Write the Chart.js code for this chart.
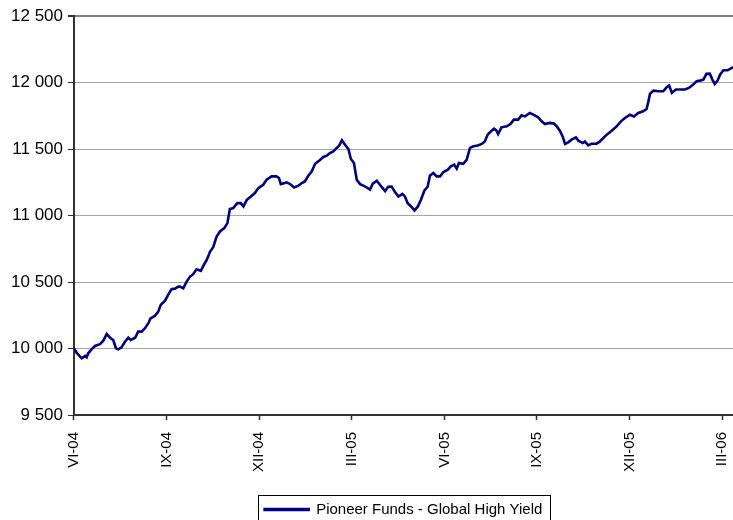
<!DOCTYPE html>
<html>
<head>
<meta charset="utf-8">
<script src="https://cdn.jsdelivr.net/npm/chart.js@4/dist/chart.umd.min.js"></script>
<style>
    html, body { margin: 0; padding: 0; background: #fff; }
    #wrap { width: 733px; height: 520px; }
</style>
</head>
<body>
<div id="wrap"><canvas id="fund-chart"></canvas></div>
<script>
// months since the start of June 2004
const MONTHS = [
    0.00, 0.09, 0.25, 0.36, 0.41, 0.46, 0.57, 0.68, 0.84, 0.95,
    1.06, 1.17, 1.27, 1.36, 1.43, 1.54, 1.65, 1.76, 1.84, 1.98,
    2.08, 2.19, 2.30, 2.41, 2.48, 2.62, 2.73, 2.81, 2.95, 3.05,
    3.16, 3.27, 3.38, 3.43, 3.54, 3.65, 3.76, 3.86, 3.97, 4.11,
    4.19, 4.30, 4.41, 4.51, 4.62, 4.73, 4.87, 4.97, 5.05, 5.16,
    5.29, 5.40, 5.49, 5.60, 5.73, 5.86, 5.97, 6.13, 6.24, 6.40,
    6.56, 6.64, 6.70, 6.83, 6.89, 7.00, 7.13, 7.27, 7.38, 7.48,
    7.59, 7.70, 7.81, 7.95, 8.08, 8.19, 8.29, 8.40, 8.51, 8.59,
    8.68, 8.78, 8.89, 8.97, 9.07, 9.16, 9.27, 9.37, 9.48, 9.59,
    9.68, 9.81, 9.91, 10.00, 10.08, 10.18, 10.29, 10.40, 10.51, 10.64,
    10.72, 10.81, 10.92, 11.03, 11.14, 11.24, 11.35, 11.46, 11.53, 11.64,
    11.75, 11.86, 11.97, 12.11, 12.21, 12.32, 12.40, 12.47, 12.61, 12.72,
    12.83, 12.94, 13.08, 13.21, 13.31, 13.40, 13.51, 13.61, 13.69, 13.74,
    13.85, 14.02, 14.14, 14.25, 14.39, 14.50, 14.61, 14.77, 14.88, 15.04,
    15.15, 15.26, 15.40, 15.55, 15.64, 15.74, 15.83, 15.91, 16.01, 16.12,
    16.26, 16.34, 16.48, 16.55, 16.66, 16.77, 16.93, 17.04, 17.09, 17.26,
    17.42, 17.58, 17.72, 17.85, 18.01, 18.14, 18.28, 18.44, 18.55, 18.61,
    18.66, 18.77, 18.93, 19.09, 19.20, 19.28, 19.37, 19.50, 19.65, 19.79,
    19.92, 20.06, 20.17, 20.28, 20.39, 20.49, 20.60, 20.68, 20.76, 20.85,
    20.93, 21.04, 21.18, 21.31, 21.35
];

const FUND_VALUES = [
    10000, 9966, 9926, 9944, 9934, 9964, 9994, 10019, 10032, 10059,
    10109, 10081, 10064, 10002, 9994, 10009, 10051, 10081, 10064, 10081,
    10127, 10127, 10152, 10190, 10227, 10245, 10277, 10328, 10360, 10403,
    10446, 10450, 10465, 10465, 10453, 10503, 10541, 10559, 10596, 10584,
    10621, 10666, 10729, 10762, 10842, 10880, 10905, 10943, 11048, 11056,
    11093, 11093, 11068, 11118, 11143, 11169, 11206, 11231, 11269, 11294,
    11294, 11282, 11236, 11244, 11249, 11236, 11211, 11224, 11244, 11256,
    11299, 11331, 11389, 11414, 11440, 11450, 11470, 11482, 11508, 11525,
    11565, 11532, 11500, 11425, 11395, 11269, 11236, 11224, 11211, 11194,
    11239, 11261, 11231, 11206, 11184, 11216, 11218, 11176, 11143, 11163,
    11143, 11093, 11068, 11038, 11068, 11118, 11186, 11218, 11299, 11319,
    11294, 11294, 11327, 11344, 11369, 11382, 11352, 11395, 11389, 11419,
    11508, 11520, 11527, 11538, 11557, 11608, 11633, 11653, 11638, 11613,
    11663, 11670, 11688, 11721, 11721, 11753, 11745, 11771, 11758, 11738,
    11708, 11688, 11696, 11691, 11670, 11638, 11595, 11538, 11550, 11570,
    11587, 11563, 11545, 11557, 11527, 11540, 11540, 11557, 11570, 11608,
    11638, 11670, 11708, 11733, 11758, 11745, 11771, 11783, 11801, 11858,
    11914, 11939, 11934, 11934, 11964, 11977, 11922, 11947, 11947, 11947,
    11959, 11984, 12009, 12014, 12022, 12065, 12067, 12022, 11989, 12014,
    12059, 12092, 12092, 12110, 12115
];

const TICK_MONTHS = [0, 3, 6, 9, 12, 15, 18, 21];
const TICK_LABELS = ["VI-04", "IX-04", "XII-04", "III-05", "VI-05", "IX-05", "XII-05", "III-06"];

const SERIES_NAME = "Pioneer Funds - Global High Yield";

const fontFamily = "'Liberation Sans', Arial, sans-serif";
const navy = "#000080";
const axisColor = "#333333";
const gridColor = "#a6a6a6";

// thin frame around the legend, like the original
const legendFrame = {
    id: "legendFrame",
    afterDraw(chart) {
        const legend = chart.legend;
        if (!legend || !legend.legendHitBoxes.length) return;
        const box = legend.legendHitBoxes[0];
        const ctx = chart.ctx;
        ctx.save();
        ctx.strokeStyle = "#000";
        ctx.lineWidth = 1;
        ctx.strokeRect(Math.round(box.left - 7) + 0.5, Math.round(box.top - 7) + 0.5,
            Math.round(box.width + 14), Math.round(box.height + 30));
        ctx.restore();
    }
};

const createFundChart = () => {
    const ctx = document.getElementById("fund-chart").getContext("2d");
    const points = MONTHS.map((m, i) => ({ x: m, y: FUND_VALUES[i] }));

    new Chart(ctx, {
        type: "line",
        data: {
            datasets: [
                {
                    label: SERIES_NAME,
                    data: points,
                    borderColor: navy,
                    backgroundColor: navy,
                    borderWidth: 2.6,
                    pointRadius: 0,
                    tension: 0
                }
            ]
        },
        options: {
            responsive: true,
            maintainAspectRatio: false,
            animation: false,
            layout: {
                padding: { top: 16, left: 6, right: 0, bottom: -7 }
            },
            plugins: {
                tooltip: { enabled: false },
                legend: {
                    position: "bottom",
                    fullSize: false,
                    labels: {
                        color: "#000",
                        boxWidth: 44,
                        boxHeight: 1,
                        padding: 3,
                        font: { family: fontFamily, size: 15 }
                    }
                }
            },
            scales: {
                x: {
                    type: "linear",
                    min: 0,
                    max: 21.35,
                    afterBuildTicks: (axis) => {
                        axis.ticks = TICK_MONTHS.map(v => ({ value: v }));
                    },
                    afterFit: (axis) => {
                        axis.paddingRight = 0;
                        axis.paddingLeft = 0;
                        axis.height = 84;
                    },
                    ticks: {
                        minRotation: 90,
                        maxRotation: 90,
                        padding: 12,
                        color: "#000",
                        font: { family: fontFamily, size: 15 },
                        callback: (value, index) => TICK_LABELS[index]
                    },
                    grid: {
                        drawOnChartArea: false,
                        tickLength: 5,
                        tickColor: axisColor,
                        tickWidth: 1.5
                    },
                    border: { color: axisColor, width: 2 }
                },
                y: {
                    min: 9500,
                    max: 12500,
                    afterFit: (axis) => {
                        axis.paddingTop = 0;
                        axis.paddingBottom = 0;
                    },
                    ticks: {
                        stepSize: 500,
                        padding: 5,
                        color: "#000",
                        font: { family: fontFamily, size: 17 },
                        callback: (value) => value.toLocaleString("en-US").replace(",", " ")
                    },
                    grid: {
                        color: (c) => c.tick && c.tick.value === 12500 ? "#808080" : gridColor,
                        lineWidth: (c) => c.tick && c.tick.value === 12500 ? 2 : 1,
                        tickLength: 6,
                        tickColor: axisColor
                    },
                    border: { color: axisColor, width: 2 }
                }
            }
        },
        plugins: [legendFrame]
    });
};

createFundChart();
</script>
</body>
</html>
